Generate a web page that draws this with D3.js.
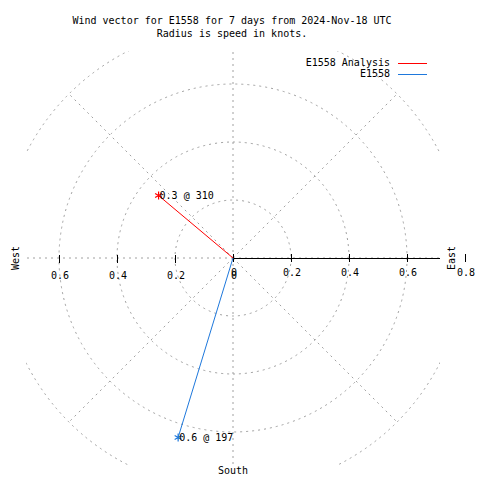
<!DOCTYPE html>
<html>
<head>
<meta charset="utf-8">
<script src="https://cdn.jsdelivr.net/npm/d3@7"></script>
<style>
  html, body { margin: 0; padding: 0; background: #fff; }
  text { font-family: "DejaVu Sans Mono", monospace; font-size: 10px; fill: #000; }
</style>
</head>
<body>
<svg id="chart" width="480" height="480"></svg>
<script>
// ---- data ----
const titleLines = ["Wind vector for E1558 for 7 days from 2024-Nov-18 UTC", "Radius is speed in knots."];
const seriesNames = ["E1558 Analysis", "E1558"];
const seriesColors = ["#ff0000", "#1e78dc"];
const speeds = [0.335, 0.647];        // knots
const directions = [310, 197];        // degrees (compass)
const ringValues = [0.2, 0.4, 0.6, 0.8];
const spokeAngles = [0, 45, 90, 135, 180, 225, 270, 315];
const rightTicks = [0, 0.2, 0.4, 0.6, 0.8];
const leftTicks = [0, 0.2, 0.4, 0.6];
const compassLabels = ["West", "East", "South"];

// ---- layout ----
const svg = d3.select("#chart");
const cx = 233, cy = 258;
const r = d3.scaleLinear().domain([0, 0.8]).range([0, 232]);
const clip = {x0: 26, y0: 51, x1: 440, y1: 465};
const gray = "#a0a0a0";

function pt(speed, deg) {
  const a = deg * Math.PI / 180;
  return [cx + r(speed) * Math.sin(a), cy - r(speed) * Math.cos(a)];
}

svg.append("defs").append("clipPath").attr("id", "plotclip")
  .append("rect").attr("x", clip.x0).attr("y", clip.y0)
  .attr("width", clip.x1 - clip.x0).attr("height", clip.y1 - clip.y0);

const grid = svg.append("g").attr("clip-path", "url(#plotclip)");

grid.selectAll("circle.ring").data(ringValues).enter().append("circle")
  .attr("class", "ring")
  .attr("cx", cx).attr("cy", cy).attr("r", d => r(d))
  .attr("fill", "none").attr("stroke", gray).attr("stroke-width", 1)
  .attr("stroke-dasharray", "2,4");

grid.selectAll("line.spoke").data(spokeAngles).enter().append("line")
  .attr("class", "spoke")
  .attr("x1", cx).attr("y1", cy)
  .attr("x2", d => pt(0.8, d)[0]).attr("y2", d => pt(0.8, d)[1])
  .attr("stroke", gray).attr("stroke-width", 1)
  .attr("stroke-dasharray", "2,4");

// east axis (solid)
grid.append("line")
  .attr("x1", cx).attr("y1", cy + 0.5).attr("x2", cx + r(0.8)).attr("y2", cy + 0.5)
  .attr("stroke", "#000").attr("stroke-width", 1);

// ticks
svg.selectAll("line.rtick").data(rightTicks).enter().append("line")
  .attr("class", "rtick")
  .attr("x1", d => Math.round(cx + r(d)) + 0.5).attr("x2", d => Math.round(cx + r(d)) + 0.5)
  .attr("y1", 254).attr("y2", 262)
  .attr("stroke", "#000");
svg.selectAll("line.ltick").data(leftTicks.filter(d => d > 0)).enter().append("line")
  .attr("class", "ltick")
  .attr("x1", d => Math.round(cx - r(d)) + 0.5).attr("x2", d => Math.round(cx - r(d)) + 0.5)
  .attr("y1", 255).attr("y2", 263)
  .attr("stroke", "#000");

svg.selectAll("text.rlab").data(rightTicks).enter().append("text")
  .attr("class", "rlab")
  .attr("x", d => cx + r(d) + 1).attr("y", 276)
  .attr("text-anchor", "middle")
  .text(d => d3.format("~g")(d));
svg.selectAll("text.llab").data(leftTicks).enter().append("text")
  .attr("class", "llab")
  .attr("x", d => cx - r(d) + 1).attr("y", 279)
  .attr("text-anchor", "middle")
  .text(d => d3.format("~g")(d));

// compass labels
svg.append("text").attr("transform", "translate(19,258) rotate(-90)")
  .attr("text-anchor", "middle").text(compassLabels[0]);
svg.append("text").attr("transform", "translate(455,258) rotate(-90)")
  .attr("text-anchor", "middle").text(compassLabels[1]);
svg.append("text").attr("x", cx).attr("y", 474)
  .attr("text-anchor", "middle").text(compassLabels[2]);

// title
svg.selectAll("text.title").data(titleLines).enter().append("text")
  .attr("class", "title")
  .attr("x", 232).attr("y", (d, i) => 24 + i * 13)
  .attr("text-anchor", "middle").text(d => d);

// legend
seriesNames.forEach((name, i) => {
  const y = 66 + i * 11;
  svg.append("text").attr("x", 390).attr("y", y).attr("text-anchor", "end").text(name);
  svg.append("line").attr("x1", 398).attr("x2", 427)
    .attr("y1", y - 2.5).attr("y2", y - 2.5)
    .attr("stroke", seriesColors[i]).attr("stroke-width", 1);
});

// vectors
const star = d3.symbol().type(d3.symbolAsterisk).size(45);
for (let i = seriesNames.length - 1; i >= 0; i--) {
  const [x, y] = pt(speeds[i], directions[i]);
  svg.append("line").attr("x1", cx).attr("y1", cy).attr("x2", x).attr("y2", y)
    .attr("stroke", seriesColors[i]).attr("stroke-width", 1);
  svg.append("path").attr("d", star()).attr("transform", `translate(${x},${y})`)
    .attr("fill", "none").attr("stroke", seriesColors[i]).attr("stroke-width", 1.2);
  svg.append("text").attr("x", x + 1).attr("y", y + 3.5)
    .text(`${speeds[i].toFixed(1)} @ ${directions[i]}`);
}
</script>
</body>
</html>
